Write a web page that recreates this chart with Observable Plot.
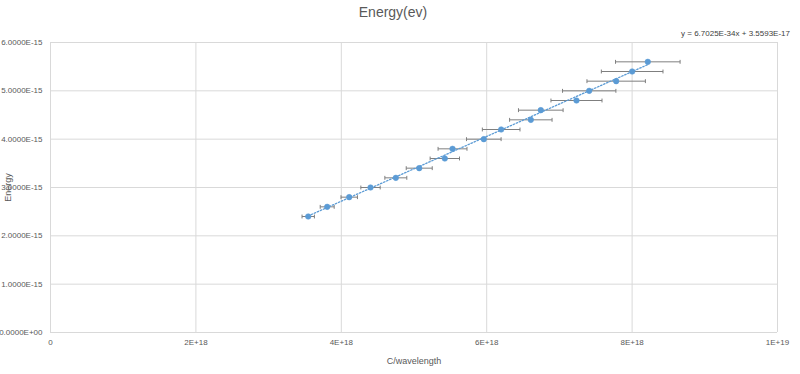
<!DOCTYPE html>
<html>
<head>
<meta charset="utf-8">
<script src="https://cdn.jsdelivr.net/npm/d3@7"></script>
<script src="https://cdn.jsdelivr.net/npm/@observablehq/plot@0.6"></script>
<style>
  html, body { margin: 0; padding: 0; background: #fff; }
  #wrap { position: relative; width: 800px; height: 374px; overflow: hidden; font-family: "Liberation Sans Narrow", "Liberation Sans", Arial, sans-serif; color: #595959; }
  #title { position: absolute; top: 4px; left: 0; width: 786px; text-align: center; font-size: 14px; }
  #eq { position: absolute; top: 29px; right: 10px; font-size: 8px; color: #404040; }
  svg { position: absolute; left: 0; top: 0; }
  svg [aria-label="x-axis label"] text, svg [aria-label="y-axis label"] text { font-size: 9px; }
</style>
</head>
<body>
<div id="wrap">
  <div id="chart"></div>
  <div id="title">Energy(ev)</div>
  <div id="eq">y = 6.7025E-34x + 3.5593E-17</div>
</div>
<script>
// Frequency (c / wavelength), Hz
const freq = [3.545e18, 3.806e18, 4.109e18, 4.402e18, 4.750e18, 5.072e18, 5.424e18, 5.530e18, 5.960e18,
              6.199e18, 6.607e18, 6.744e18, 7.235e18, 7.410e18, 7.781e18, 8.001e18, 8.216e18];
// Energy values
const energy = [2.4e-15, 2.6e-15, 2.8e-15, 3.0e-15, 3.2e-15, 3.4e-15, 3.6e-15, 3.8e-15, 4.0e-15,
                4.2e-15, 4.4e-15, 4.6e-15, 4.8e-15, 5.0e-15, 5.2e-15, 5.4e-15, 5.6e-15];
// Horizontal error (± in frequency)
const freqErr = [0.085e18, 0.096e18, 0.113e18, 0.133e18, 0.151e18, 0.179e18, 0.202e18, 0.199e18, 0.238e18,
                 0.259e18, 0.292e18, 0.307e18, 0.351e18, 0.367e18, 0.402e18, 0.424e18, 0.444e18];
// Trendline coefficients (as displayed)
const trendSlope = 6.7025e-34;
const trendIntercept = 3.5593e-17;

const xTicks = [0, 2e18, 4e18, 6e18, 8e18, 1e19];
const xTickLabels = ["0", "2E+18", "4E+18", "6E+18", "8E+18", "1E+19"];
const yTicks = [0, 1e-15, 2e-15, 3e-15, 4e-15, 5e-15, 6e-15];
const yTickLabels = ["0.0000E+00", "1.0000E-15", "2.0000E-15", "3.0000E-15", "4.0000E-15", "5.0000E-15", "6.0000E-15"];

const data = freq.map((x, i) => ({ x, y: energy[i], lo: x - freqErr[i], hi: x + freqErr[i] }));
const xMin = d3.min(freq), xMax = d3.max(freq);
const trend = [xMin, xMax].map(x => ({ x, y: trendSlope * x + trendIntercept }));

const capSymbol = {
  draw(ctx, size) {
    const h = Math.sqrt(size) / 2;
    ctx.moveTo(0, -h);
    ctx.lineTo(0, h);
  }
};
const caps = data.flatMap(d => [{ x: d.lo, y: d.y }, { x: d.hi, y: d.y }]);

const blue = "#5b9bd5";
const errColor = "#7f7f7f";

const plot = Plot.plot({
  width: 800,
  height: 374,
  marginLeft: 50,
  marginRight: 23,
  marginTop: 42,
  marginBottom: 42,
  style: { fontFamily: '"Liberation Sans Narrow", "Liberation Sans", Arial, sans-serif', fontSize: "8px", color: "#595959", background: "transparent" },
  x: { domain: [0, 1e19] },
  y: { domain: [0, 6e-15] },
  marks: [
    Plot.gridX(xTicks, { stroke: "#d9d9d9", strokeOpacity: 1 }),
    Plot.gridY(yTicks, { stroke: "#d9d9d9", strokeOpacity: 1 }),
    Plot.axisX({ ticks: xTicks, tickSize: 0, tickPadding: 7, tickFormat: (d) => xTickLabels[xTicks.indexOf(d)],
                 label: "C/wavelength", labelAnchor: "center", labelArrow: "none", labelOffset: 31, fill: "#595959" }),
    Plot.axisY({ ticks: yTicks, tickSize: 0, tickPadding: 8, tickFormat: d => yTickLabels[yTicks.indexOf(d)],
                 label: "Energy", labelAnchor: "center", labelArrow: "none", labelOffset: 46, fill: "#595959" }),
    Plot.link(data, { x1: "lo", x2: "hi", y1: "y", y2: "y", stroke: errColor, strokeWidth: 1 }),
    Plot.dot(caps, { x: "x", y: "y", symbol: capSymbol, r: 2.2, stroke: errColor, strokeWidth: 1, fill: "none" }),
    Plot.dot(data, { x: "x", y: "y", r: 2.8, fill: blue, stroke: blue, strokeWidth: 0.5 }),
    Plot.line(trend, { x: "x", y: "y", stroke: blue, strokeWidth: 1.3, strokeDasharray: "1.5,1.8" })
  ]
});
document.getElementById("chart").appendChild(plot);
</script>
</body>
</html>
